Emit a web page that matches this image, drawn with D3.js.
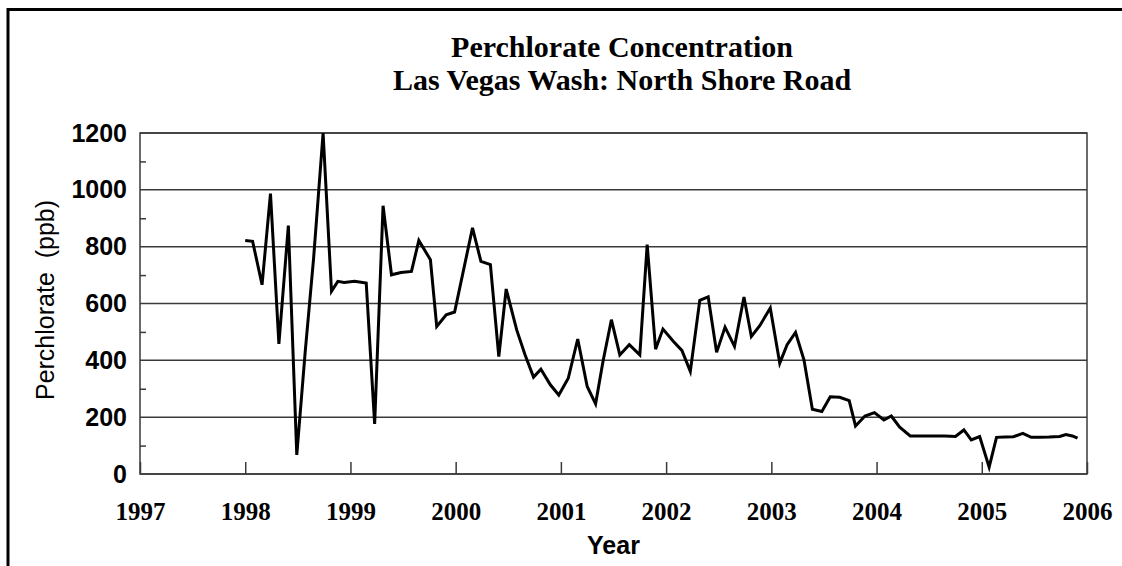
<!DOCTYPE html>
<html>
<head>
<meta charset="utf-8">
<script src="https://cdnjs.cloudflare.com/ajax/libs/d3/7.8.5/d3.min.js"></script>
<style>
  body { margin: 0; background: #fff; }
  .grid { stroke: #3a3a3a; stroke-width: 1.5; }
  .frame { stroke: #000; stroke-width: 3; fill: none; }
  .series { stroke: #000; stroke-width: 3; fill: none; stroke-linejoin: miter; }
</style>
</head>
<body>
<script>
//sample dates (decimal year) and perchlorate values (ppb)
var sampleYears = [
  1998.00, 1998.07, 1998.16, 1998.24, 1998.32, 1998.41, 1998.49, 1998.57, 1998.65, 1998.74,
  1998.82, 1998.88, 1998.94, 1999.04, 1999.15, 1999.23, 1999.31, 1999.39, 1999.48, 1999.58,
  1999.65, 1999.76, 1999.82, 1999.91, 1999.99, 2000.16, 2000.24, 2000.33, 2000.41, 2000.48,
  2000.58, 2000.66, 2000.74, 2000.81, 2000.90, 2000.98, 2001.07, 2001.16, 2001.25, 2001.33,
  2001.40, 2001.48, 2001.56, 2001.65, 2001.75, 2001.82, 2001.90, 2001.97, 2002.07, 2002.15,
  2002.23, 2002.32, 2002.40, 2002.48, 2002.56, 2002.65, 2002.74, 2002.81, 2002.89, 2002.99,
  2003.08, 2003.15, 2003.23, 2003.31, 2003.39, 2003.48, 2003.56, 2003.65, 2003.74, 2003.80,
  2003.89, 2003.98, 2004.07, 2004.14, 2004.22, 2004.32, 2004.40, 2004.48, 2004.57, 2004.65,
  2004.75, 2004.83, 2004.90, 2004.98, 2005.07, 2005.14, 2005.22, 2005.30, 2005.39, 2005.47,
  2005.55, 2005.64, 2005.74, 2005.80, 2005.86, 2005.91
];
var perchlorate = [
  822, 819, 666, 987, 458, 874, 67, 430, 760, 1200,
  643, 678, 674, 678, 672, 176, 944, 701, 709, 713,
  822, 754, 519, 560, 570, 866, 748, 737, 413, 651,
  507, 419, 341, 369, 314, 278, 337, 475, 308, 247,
  396, 543, 419, 455, 419, 807, 439, 510, 466, 435,
  361, 611, 623, 428, 517, 449, 623, 484, 522, 584,
  390, 455, 498, 402, 228, 220, 272, 270, 258, 169,
  204, 216, 190, 204, 165, 134, 134, 134, 134, 134,
  132, 155, 120, 132, 24, 129, 130, 131, 143, 129,
  129, 130, 132, 139, 134, 126
];

//axis ticks
var yearTicks = [1997, 1998, 1999, 2000, 2001, 2002, 2003, 2004, 2005, 2006];
var valueTicks = [0, 200, 400, 600, 800, 1000, 1200];
var minorTicks = [100, 300, 500, 700, 900, 1100];

var titleLines = ["Perchlorate Concentration", "Las Vegas Wash: North Shore Road"];

//page and plot dimensions
var width = 1122,
    height = 566;
var plot = { left: 140, right: 1087, top: 133, bottom: 474 };

var svg = d3.select("body")
    .append("svg")
    .attr("width", width)
    .attr("height", height);

//outer frame (cut off at right and bottom like the picture)
svg.append("path")
    .attr("class", "frame")
    .attr("d", "M8," + (height + 5) + "V9.5H" + (width + 5));

var x = d3.scaleLinear()
    .domain([1997, 2006])
    .range([plot.left, plot.right]);

var y = d3.scaleLinear()
    .domain([0, 1200])
    .range([plot.bottom, plot.top]);

//horizontal gridlines at major values
svg.selectAll(".grid")
    .data(valueTicks)
    .enter()
    .append("line")
    .attr("class", "grid")
    .attr("x1", plot.left)
    .attr("x2", plot.right)
    .attr("y1", function(d){ return y(d); })
    .attr("y2", function(d){ return y(d); });

//plot box
svg.append("rect")
    .attr("x", plot.left)
    .attr("y", plot.top)
    .attr("width", plot.right - plot.left)
    .attr("height", plot.bottom - plot.top)
    .attr("fill", "none")
    .attr("stroke", "#3a3a3a")
    .attr("stroke-width", 1.5);

//x axis: inward ticks, serif labels
var xAxis = svg.append("g")
    .attr("transform", "translate(0," + plot.bottom + ")")
    .call(d3.axisBottom(x)
      .tickValues(yearTicks)
      .tickSizeInner(-12)
      .tickSizeOuter(0)
      .tickPadding(28)
      .tickFormat(d3.format("d")));
xAxis.select(".domain").remove();
xAxis.selectAll("line").attr("stroke", "#3a3a3a").attr("stroke-width", 1.5);
xAxis.selectAll("text")
    .attr("fill", "#000")
    .style("font-family", "'Liberation Serif', 'Times New Roman', serif")
    .style("font-weight", "bold")
    .style("font-size", "25px");

//y axis: labels, minor inward ticks
var yAxis = svg.append("g")
    .attr("transform", "translate(" + plot.left + ",0)")
    .call(d3.axisLeft(y)
      .tickValues(valueTicks)
      .tickSize(0)
      .tickPadding(13)
      .tickFormat(d3.format("d")));
yAxis.select(".domain").remove();
yAxis.selectAll("text")
    .attr("fill", "#000")
    .style("font-family", "'Liberation Sans', Arial, sans-serif")
    .style("font-weight", "bold")
    .style("font-size", "25px");

svg.append("g")
    .attr("transform", "translate(" + plot.left + ",0)")
    .call(d3.axisRight(y).tickValues(minorTicks).tickSize(6).tickFormat(""))
    .call(function(g){
      g.select(".domain").remove();
      g.selectAll("line").attr("stroke", "#3a3a3a").attr("stroke-width", 1.5);
    });

//data line
var line = d3.line()
    .x(function(d, i){ return x(sampleYears[i]); })
    .y(function(d){ return y(d); });

svg.append("path")
    .datum(perchlorate)
    .attr("class", "series")
    .attr("d", line);

//title
svg.selectAll(".title")
    .data(titleLines)
    .enter()
    .append("text")
    .attr("class", "title")
    .attr("x", 622)
    .attr("y", function(d, i){ return 57 + i * 33; })
    .attr("text-anchor", "middle")
    .style("font-family", "'Liberation Serif', 'Times New Roman', serif")
    .style("font-weight", "bold")
    .style("font-size", "30px")
    .text(function(d){ return d; });

//axis titles
svg.append("text")
    .attr("x", (plot.left + plot.right) / 2)
    .attr("y", 554)
    .attr("text-anchor", "middle")
    .style("font-family", "'Liberation Sans', Arial, sans-serif")
    .style("font-weight", "bold")
    .style("font-size", "25px")
    .text("Year");

svg.append("text")
    .attr("transform", "translate(54,300) rotate(-90)")
    .attr("text-anchor", "middle")
    .style("font-family", "'Liberation Sans', Arial, sans-serif")
    .style("font-size", "25px")
    .style("white-space", "pre")
    .attr("xml:space", "preserve")
    .text("Perchlorate  (ppb)");
</script>
</body>
</html>
